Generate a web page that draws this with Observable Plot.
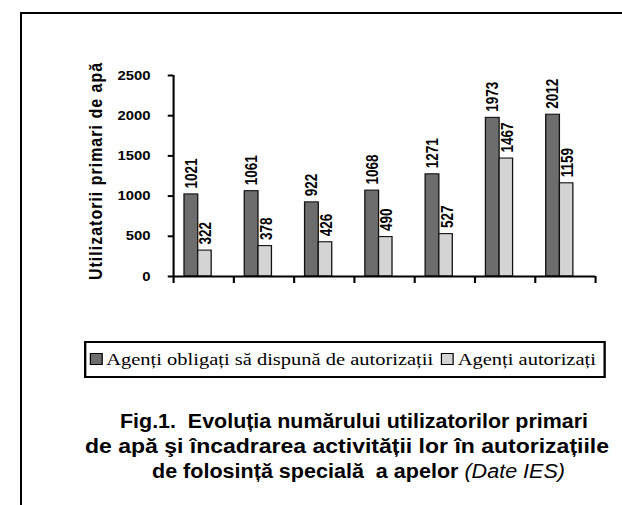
<!DOCTYPE html>
<html>
<head>
<meta charset="utf-8">
<script src="https://cdn.jsdelivr.net/npm/d3@7"></script>
<script src="https://cdn.jsdelivr.net/npm/@observablehq/plot@0.6"></script>
<style>
  html, body { margin: 0; padding: 0; background: #fff; }
  #page { position: relative; width: 622px; height: 505px; overflow: hidden; background: #fff; }
  #frame { position: absolute; left: 20px; top: 12px; right: -10px; bottom: -10px;
           border-left: 2px solid #000; border-top: 2px solid #000; }
  #chart { position: absolute; left: 0; top: 0; transform: scaleX(1.17); transform-origin: 0 0; }
  #legend { position: absolute; left: 84px; top: 341px; width: 442px; height: 33px;
            border: 2px solid #000; transform: scaleX(1.17); transform-origin: 0 0;
            font-family: "Liberation Serif", "Times New Roman", serif; box-sizing: content-box;
            font-size: 17.5px; line-height: 33px; white-space: nowrap; color: #000; padding-left: 0; }
  #legend .sw { display: inline-block; width: 9px; height: 10px; border: 1px solid #000;
                vertical-align: middle; margin: -3px 3px 0 3px; }
  #legend .gap { display: inline-block; width: 4px; }
  .tl { position: absolute; white-space: nowrap; transform-origin: 0 0;
        font-family: "Liberation Sans", Arial, sans-serif; font-weight: bold;
        font-size: 19.5px; line-height: 25px; color: #000; }
</style>
</head>
<body>
<div id="page">
  <div id="frame"></div>
  <div id="chart"></div>
  <div id="legend"></div>
  <div id="title"></div>
</div>
<script>
// categories (unlabelled in the source chart: seven consecutive periods)
const groupIndex = [0, 1, 2, 3, 4, 5, 6];
const seriesNames = ["Agenți obligați să dispună de autorizații", "Agenți autorizați"];
const obligati = [1021, 1061, 922, 1068, 1271, 1973, 2012];
const autorizati = [322, 378, 426, 490, 527, 1467, 1159];
const yTicks = [0, 500, 1000, 1500, 2000, 2500];
const yLabel = "Utilizatorii primari de apă";
const titleLines = [
  "Fig.1.&nbsp; Evoluția numărului utilizatorilor primari",
  "de apă şi încadrarea activității lor în autorizațiile",
  "de folosință specială&nbsp; a apelor <i style=\"font-weight:normal\">(Date IES)</i>"
];
const colors = ["#6d6d6d", "#d4d4d4"];

const rowsA = groupIndex.map((g, i) => ({g, value: obligati[i]}));
const rowsB = groupIndex.map((g, i) => ({g, value: autorizati[i]}));

// the source picture is stretched horizontally; the chart is drawn narrower and scaled by CSS
const SX = 1.17;
const chart = Plot.plot({
  width: 622 / SX,
  height: 300,
  marginLeft: 173 / SX,
  marginRight: 27 / SX,
  marginTop: 75,
  marginBottom: 24,
  style: {background: "transparent", overflow: "visible", fontFamily: "Liberation Sans, Arial, sans-serif", fontWeight: "bold", fontSize: "12.7px", color: "#000"},
  x: {type: "linear", domain: [0, groupIndex.length]},
  y: {domain: [0, 2500]},
  marks: [
    Plot.rectY(rowsA, {x1: "g", x2: d => d.g + 1, y: "value", fill: colors[0], stroke: "#111", strokeWidth: 1.1, insetLeft: 9.4, insetRight: 30.4}),
    Plot.rectY(rowsB, {x1: "g", x2: d => d.g + 1, y: "value", fill: colors[1], stroke: "#111", strokeWidth: 1.1, insetLeft: 21.1, insetRight: 18.9}),
    Plot.text(rowsA, {x: "g", y: "value", text: d => String(d.value), rotate: -90, textAnchor: "start", dx: 15.4, dy: -6, fontSize: 13.5, fontWeight: "bold", fill: "#000"}),
    Plot.text(rowsB, {x: "g", y: "value", text: d => String(d.value), rotate: -90, textAnchor: "start", dx: 28, dy: -6, fontSize: 13.5, fontWeight: "bold", fill: "#000"}),
    Plot.axisY({ticks: yTicks, tickSize: 4.5, tickPadding: 15.2, strokeWidth: 2, label: null, tickFormat: d => String(d)}),
    Plot.text([yLabel], {frameAnchor: "left", textAnchor: "middle", lineAnchor: "middle", rotate: -90, dx: -66, dy: -5, fontSize: 16, fontWeight: "bold", fill: "#000"}),
    Plot.axisX({ticks: d3.range(0, groupIndex.length + 1), tickSize: 7, strokeWidth: 1.8, tickFormat: () => "", label: null}),
    Plot.ruleX([0], {stroke: "#000", strokeWidth: 1.8}),
    Plot.ruleY([0], {stroke: "#000", strokeWidth: 2})
  ]
});
document.getElementById("chart").appendChild(chart);
chart.querySelectorAll("text").forEach(t => {
  if (t.textContent === yLabel) t.style.letterSpacing = "1px";
});

const legend = document.getElementById("legend");
legend.innerHTML = seriesNames.map((n, i) =>
  `<span class="sw" style="background:${colors[i]}"></span>${n}`).join('<span class="gap"></span>');

// title lines: each fitted to the horizontal extent it has in the reference
const lineBoxes = [[120, 588, 409], [85, 609, 434], [152, 565, 459]];
const title = document.getElementById("title");
titleLines.forEach((html, i) => {
  const s = document.createElement("span");
  s.className = "tl";
  s.innerHTML = html;
  title.appendChild(s);
  const [x0, x1, top] = lineBoxes[i];
  const w = s.getBoundingClientRect().width;
  s.style.left = x0 + "px";
  s.style.top = top + "px";
  s.style.transform = `scaleX(${(x1 - x0) / w})`;
});
</script>
</body>
</html>
